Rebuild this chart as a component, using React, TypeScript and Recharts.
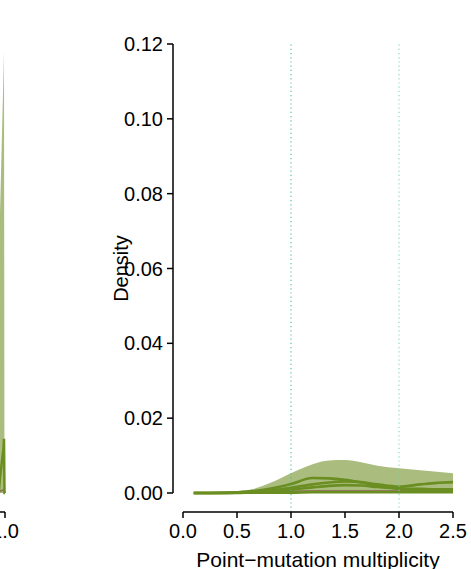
import React from 'react';
import { ComposedChart, Area, Line, XAxis, YAxis, ReferenceLine, Label } from 'recharts';

// Right panel: point-mutation multiplicity densities
const xValues = [0.1, 0.25, 0.5, 0.65, 0.8, 1.0, 1.2, 1.35, 1.5, 1.65, 1.8, 2.0, 2.2, 2.35, 2.5];
const totalDensity = [0, 0.0001, 0.0005, 0.0011, 0.0026, 0.0053, 0.0077, 0.0087, 0.0088, 0.0082, 0.0073, 0.0066, 0.0061, 0.0057, 0.0053];
const sampleA = [0, 0, 0.0002, 0.0005, 0.0011, 0.0024, 0.004, 0.0039, 0.0035, 0.0028, 0.002, 0.0011, 0.0008, 0.0007, 0.0006];
const sampleB = [0, 0, 0.0001, 0.0003, 0.0007, 0.0014, 0.0023, 0.0028, 0.0031, 0.0029, 0.0023, 0.0017, 0.0023, 0.0027, 0.0029];
const sampleC = [0, 0, 0.0001, 0.0002, 0.0004, 0.0009, 0.0015, 0.0019, 0.0021, 0.002, 0.0016, 0.0012, 0.0011, 0.001, 0.001];
const sampleD = [0, 0, 0, 0.0001, 0.0001, 0.0001, 0.0002, 0.0002, 0.0002, 0.0002, 0.0002, 0.0002, 0.0002, 0.0002, 0.0002];
const sampleBrown = [0, 0, 0, 0.0001, 0.0003, 0.0004, 0.0005, 0.0005, 0.0005, 0.0005, 0.0005, 0.0005, 0.0005, 0.0005, 0.0005];

const xTicks = [0, 0.5, 1.0, 1.5, 2.0, 2.5];
const yTicks = [0, 0.02, 0.04, 0.06, 0.08, 0.1, 0.12];
const refLinesX = [1, 2];

// Left (cropped) panel
const leftX = [0.9, 0.97, 0.975, 0.9925, 0.995, 0.9975, 1.0];
const leftTotal = [0, 0.02, 0.075, 0.112, 0.118, 0, 0];
const leftLine = [0, 0.001, 0.004, 0.012, 0.0145, 0, 0];
const leftBrown = [0, 0, 0.0005, 0.0008, 0.0008, 0.0002, 0];
const leftTicks = [0, 0.5, 1.0];

const rows = xValues.map((x, i) => ({
  x,
  total: totalDensity[i],
  a: sampleA[i],
  b: sampleB[i],
  c: sampleC[i],
  d: sampleD[i],
  brown: sampleBrown[i],
}));

const leftRows = leftX.map((x, i) => ({
  x,
  total: leftTotal[i],
  line: leftLine[i],
  brown: leftBrown[i],
}));

const FONT = '"Liberation Sans", Arial, sans-serif';
const FILL = '#AABD7E';
const DARK = '#6B8E23';
const BROWN = '#8E7A5A';
const REF_COLORS = ['#3DBE80', '#74DBAE'];

const tickStyle = { fontSize: 20, fill: '#000', fontFamily: FONT };
const axisLineStyle = { stroke: '#000', strokeWidth: 1.5 };

const DensityLabel = (props: any) => {
  const vb = props.viewBox || {};
  const cx = (vb.x || 0) + (vb.width || 0) - 45;
  const cy = (vb.y || 0) + (vb.height || 0) / 2;
  return (
    <text
      x={cx}
      y={cy}
      transform={`rotate(-90, ${cx}, ${cy})`}
      textAnchor="middle"
      fontSize={20}
      fontFamily={FONT}
      fill="#000"
    >
      Density
    </text>
  );
};

const XTitle = (props: any) => {
  const vb = props.viewBox || {};
  const cx = (vb.x || 0) + (vb.width || 0) / 2;
  const by = (vb.y || 0) + (vb.height || 0) - 2;
  return (
    <text x={cx} y={by} textAnchor="middle" fontSize={21} fontFamily={FONT} fill="#000">
      Point−mutation multiplicity
    </text>
  );
};

export default function App() {
  return (
    <div style={{ position: 'absolute', left: 0, top: 0, width: 471, height: 569, overflow: 'hidden', background: '#fff' }}>
      {/* Left cropped panel */}
      <div style={{ position: 'absolute', left: -195, top: 0 }}>
        <ComposedChart width={220} height={569} data={leftRows} margin={{ top: 44, right: 20, bottom: 0, left: 0 }}>
          <XAxis
            dataKey="x"
            type="number"
            domain={[0, 1]}
            ticks={leftTicks}
            tickFormatter={(v: number) => v.toFixed(1)}
            height={57}
            tickSize={6}
            tickMargin={6}
            tick={tickStyle}
            axisLine={axisLineStyle}
            tickLine={axisLineStyle}
          />
          <YAxis hide width={0} type="number" domain={[0, 0.12]} padding={{ top: 0, bottom: 19 }} />
          <Area type="linear" dataKey="total" fill={FILL} fillOpacity={1} stroke="none" isAnimationActive={false} />
          <Line type="linear" dataKey="brown" stroke={BROWN} strokeWidth={2} dot={false} isAnimationActive={false} />
          <Line type="linear" dataKey="line" stroke={DARK} strokeWidth={2.5} dot={false} isAnimationActive={false} />
        </ComposedChart>
      </div>

      {/* Y axis */}
      <div style={{ position: 'absolute', left: 0, top: 0 }}>
        <ComposedChart width={471} height={569} data={rows} margin={{ top: 44, right: 18, bottom: 76, left: 0 }}>
          <XAxis hide height={0} dataKey="x" type="number" domain={[0, 2.5]} />
          <YAxis
            type="number"
            domain={[0, 0.12]}
            ticks={yTicks}
            tickFormatter={(v: number) => v.toFixed(2)}
            width={173}
            tickSize={6}
            tickMargin={4}
            tick={tickStyle}
            axisLine={axisLineStyle}
            tickLine={axisLineStyle}
            interval={0}
          >
            <Label content={<DensityLabel />} />
          </YAxis>
          <Line type="monotone" dataKey="total" stroke="none" dot={false} activeDot={false} isAnimationActive={false} />
        </ComposedChart>
      </div>

      {/* Data + X axis */}
      <div style={{ position: 'absolute', left: 0, top: 0 }}>
        <ComposedChart width={471} height={569} data={rows} margin={{ top: 44, right: 18, bottom: 0, left: 183 }}>
          <XAxis
            dataKey="x"
            type="number"
            domain={[0, 2.5]}
            ticks={xTicks}
            tickFormatter={(v: number) => v.toFixed(1)}
            height={57}
            tickSize={6}
            tickMargin={6}
            tick={tickStyle}
            axisLine={axisLineStyle}
            tickLine={axisLineStyle}
            interval={0}
          >
            <Label content={<XTitle />} />
          </XAxis>
          <YAxis hide width={0} type="number" domain={[0, 0.12]} padding={{ top: 0, bottom: 19 }} />
          <Area type="monotone" dataKey="total" fill={FILL} fillOpacity={1} stroke="none" isAnimationActive={false} />
          <Line type="monotone" dataKey="brown" stroke={BROWN} strokeWidth={2.2} dot={false} isAnimationActive={false} />
          <Line type="monotone" dataKey="d" stroke={DARK} strokeWidth={2.6} dot={false} isAnimationActive={false} />
          <Line type="monotone" dataKey="c" stroke={DARK} strokeWidth={2.6} dot={false} isAnimationActive={false} />
          <Line type="monotone" dataKey="b" stroke={DARK} strokeWidth={2.6} dot={false} isAnimationActive={false} />
          <Line type="monotone" dataKey="a" stroke={DARK} strokeWidth={2.6} dot={false} isAnimationActive={false} />
          {refLinesX.map((v, i) => (
            <ReferenceLine key={v} x={v} stroke={REF_COLORS[i]} strokeOpacity={0.85} strokeDasharray="1.2 3" strokeWidth={1.2} />
          ))}
        </ComposedChart>
      </div>
    </div>
  );
}
